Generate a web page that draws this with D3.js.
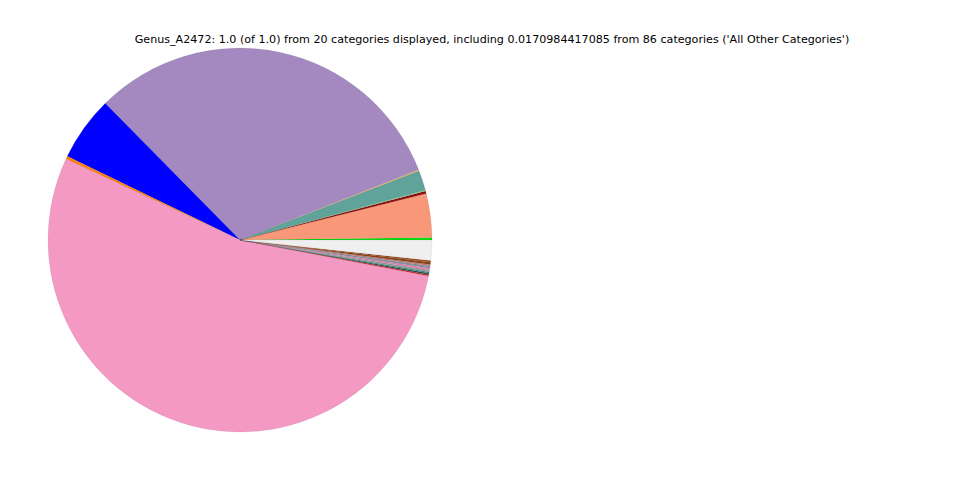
<!DOCTYPE html>
<html>
<head>
<meta charset="utf-8">
<script src="https://cdn.jsdelivr.net/npm/d3@7"></script>
<style>
html,body{margin:0;padding:0;background:#fff;}
svg{display:block;}
</style>
</head>
<body>
<svg id="chart" width="960" height="480"></svg>
<script>
const title = "Genus_A2472: 1.0 (of 1.0) from 20 categories displayed, including 0.0170984417085 from 86 categories ('All Other Categories')";
const categories = ["c01","c02","c03","c04","c05","c06","c07","c08","c09","c10","c11","c12","c13","c14","c15","c16","c17","c18","c19","All Other Categories"];
const values = [0.0020,0.0369,0.0022,0.0008,0.0169,0.0011,0.3139,0.0544,0.0025,0.5392,0.0011,0.0011,0.0011,0.0017,0.0014,0.0019,0.0014,0.0019,0.0013,0.0171];
const colors = ["#11e011","#f89878","#8b1010","#90d090","#5fa39a","#e0b070","#a389bf","#0000ff","#ff7f0e","#f499c4","#d62728","#2f4f4f","#3a8f86","#9a9a9a","#e585b5","#8890a0","#c08080","#8b4513","#a0522d","#efefef"];

const svg = d3.select("#chart");
const cx = 240, cy = 240, r = 192;

const data = categories.map((c,i)=>({cat:c, value:values[i], color:colors[i]}));
const pie = d3.pie().value(d=>d.value).sort(null)
  .startAngle(Math.PI/2).endAngle(Math.PI/2 - 2*Math.PI);
const arc = d3.arc().innerRadius(0).outerRadius(r);

svg.append("g").attr("transform",`translate(${cx},${cy})`)
  .selectAll("path").data(pie(data)).join("path")
  .attr("d",arc)
  .attr("fill",d=>d.data.color)
  .attr("stroke","rgba(0,0,0,0.18)")
  .attr("stroke-width",0.3);

svg.append("text")
  .attr("x",492).attr("y",43)
  .attr("text-anchor","middle")
  .attr("font-family","DejaVu Sans, sans-serif")
  .attr("font-size","11.12px")
  .attr("fill","#000")
  .text(title);
</script>
</body>
</html>
